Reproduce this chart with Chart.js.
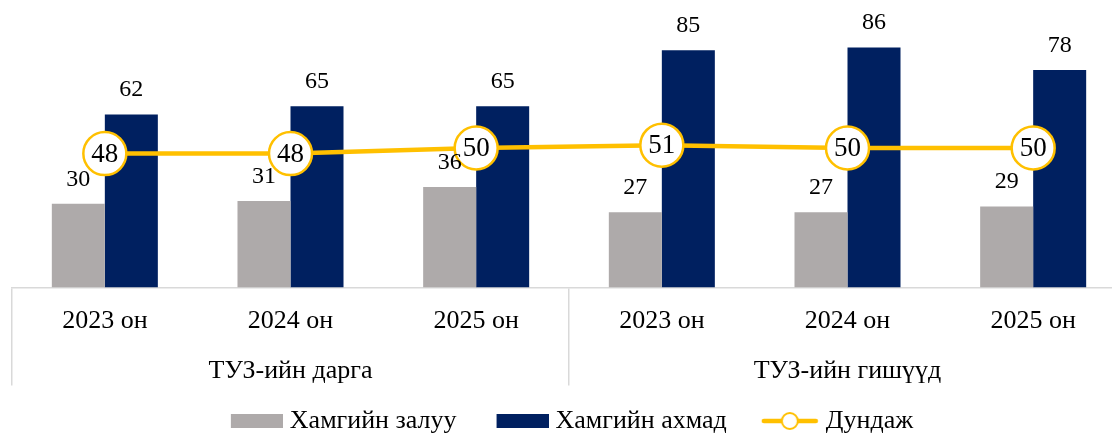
<!DOCTYPE html>
<html>
<head>
<meta charset="utf-8">
<script src="https://cdn.jsdelivr.net/npm/chart.js@4.4.1/dist/chart.umd.min.js"></script>
<style>
  html, body { margin: 0; padding: 0; overflow: hidden; background: #ffffff; width: 1112px; height: 436px; }
  #wrap { position: absolute; left: 0; top: 0; width: 1140px; height: 436px; }
  canvas { display: block; }
</style>
</head>
<body>
<div id="wrap"><canvas id="c" width="1140" height="436"></canvas></div>
<script>
// ---- data ----
const yearLabels = ['2023 он', '2024 он', '2025 он', '2023 он', '2024 он', '2025 он'];
const groupLabels = ['ТУЗ-ийн дарга', 'ТУЗ-ийн гишүүд'];
const seriesNames = ['Хамгийн залуу', 'Хамгийн ахмад', 'Дундаж'];
const youngest = [30, 31, 36, 27, 27, 29];
const oldest = [62, 65, 65, 85, 86, 78];
const average = [48, 48, 50, 51, 50, 50];

// ---- styles ----
const GRAY = '#AEAAAA';
const NAVY = '#002060';
const GOLD = '#FFC000';
const GRID = '#D9D9D9';
const FONT = '"Liberation Serif", "Times New Roman", serif';

Chart.defaults.font.family = FONT;
Chart.defaults.color = '#000000';

// legend marker images
function boxMarker(color) {
  const c = document.createElement('canvas');
  c.width = 64; c.height = 14;
  const g = c.getContext('2d');
  g.fillStyle = color;
  g.fillRect(12, 0, 52, 14);
  return c;
}
function lineMarker() {
  const c = document.createElement('canvas');
  c.width = 64; c.height = 22;
  const g = c.getContext('2d');
  g.strokeStyle = GOLD;
  g.lineWidth = 4.5;
  g.lineCap = 'round';
  g.beginPath(); g.moveTo(9, 11); g.lineTo(61, 11); g.stroke();
  g.beginPath(); g.arc(35, 11, 8, 0, Math.PI * 2);
  g.fillStyle = '#ffffff'; g.fill();
  g.lineWidth = 2; g.stroke();
  return c;
}
const markers = [boxMarker(GRAY), boxMarker(NAVY), lineMarker()];

const valueLabels = {
  id: 'valueLabels',
  afterDatasetsDraw(chart) {
    const ctx = chart.ctx;
    ctx.save();
    ctx.fillStyle = '#000000';
    ctx.textAlign = 'center';
    ctx.textBaseline = 'middle';
    ctx.font = '24px ' + FONT;
    [0, 1].forEach(di => {
      const meta = chart.getDatasetMeta(di);
      const vals = chart.data.datasets[di].data;
      meta.data.forEach((el, i) => {
        ctx.fillText(String(vals[i]), el.x, el.y - 24.5);
      });
    });
    ctx.font = '27px ' + FONT;
    const lm = chart.getDatasetMeta(2);
    const lv = chart.data.datasets[2].data;
    lm.data.forEach((el, i) => {
      ctx.fillText(String(lv[i]), el.x, el.y + 1);
    });
    ctx.restore();
  }
};

const boundaryColor = (ctx) => {
  if (ctx.index === undefined) return GRID;
  return (ctx.index % 3 === 0) ? GRID : 'rgba(0,0,0,0)';
};

new Chart(document.getElementById('c'), {
  type: 'bar',
  data: {
    labels: yearLabels,
    datasets: [
      {
        label: seriesNames[0], data: youngest, backgroundColor: GRAY,
        categoryPercentage: 0.571, barPercentage: 1.0, order: 1
      },
      {
        label: seriesNames[1], data: oldest, backgroundColor: NAVY,
        categoryPercentage: 0.571, barPercentage: 1.0, order: 1
      },
      {
        type: 'line', label: seriesNames[2], data: average,
        borderColor: GOLD, borderWidth: 4.5, tension: 0,
        pointRadius: 21.5, pointHoverRadius: 21.5,
        pointBackgroundColor: '#ffffff', pointBorderColor: GOLD, pointBorderWidth: 2.5,
        clip: false,
        order: 0
      }
    ]
  },
  options: {
    responsive: false,
    animation: false,
    events: [],
    layout: { autoPadding: false, padding: { left: 12, right: 14, top: 8.5, bottom: 0 } },
    scales: {
      x: {
        type: 'category',
        position: 'bottom',
        weight: 0,
        offset: true,
        grid: {
          offset: true,
          drawOnChartArea: false,
          drawTicks: true,
          tickLength: 98,
          color: boundaryColor,
          tickColor: boundaryColor,
          lineWidth: 1.5,
          tickWidth: 1.5
        },
        border: { display: true, color: GRID, width: 1.5 },
        ticks: {
          padding: -80,
          maxRotation: 0, minRotation: 0, autoSkip: false,
          color: '#000000',
          font: { size: 26, family: FONT }
        },
        afterFit: (s) => { s.height = 58; }
      },
      x2: {
        type: 'category',
        position: 'bottom',
        weight: 1,
        offset: true,
        labels: groupLabels,
        grid: { display: false, drawTicks: false, drawOnChartArea: false },
        border: { display: false },
        ticks: {
          mirror: true,
          padding: -41,
          maxRotation: 0, minRotation: 0, autoSkip: false,
          color: '#000000',
          font: { size: 26, family: FONT }
        },
        afterFit: (s) => { s.height = 28.5; }
      },
      y: {
        display: false,
        min: 0,
        max: 100
      }
    },
    plugins: {
      tooltip: { enabled: false },
      legend: {
        position: 'bottom',
        align: 'center',
        maxHeight: 62,
        labels: {
          usePointStyle: true,
          pointStyleWidth: 52,
          padding: 34,
          color: '#000000',
          font: { size: 26, family: FONT },
          generateLabels: (chart) => seriesNames.map((name, i) => ({
            text: name,
            datasetIndex: i,
            pointStyle: markers[i],
            fillStyle: 'rgba(0,0,0,0)',
            strokeStyle: 'rgba(0,0,0,0)',
            lineWidth: 0,
            hidden: false,
            fontColor: '#000000'
          }))
        }
      }
    }
  },
  plugins: [valueLabels]
});
</script>
</body>
</html>
